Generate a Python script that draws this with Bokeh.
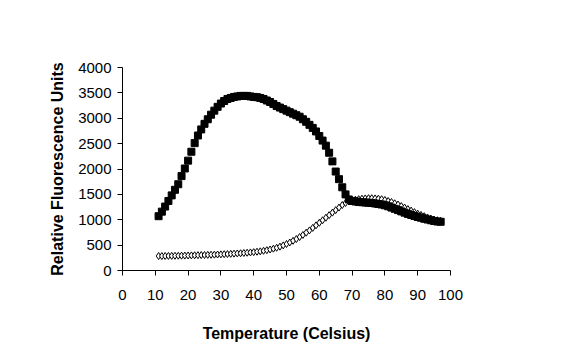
from bokeh.plotting import figure
from bokeh.models import Range1d, FixedTicker
from bokeh.embed import file_html
from bokeh.resources import INLINE

temps = list(range(11, 98))

series_filled = [1070, 1160, 1260, 1370, 1480, 1590, 1700, 1860, 2010, 2165,
                 2340, 2510, 2660, 2780, 2890, 2980, 3070, 3150, 3225, 3290,
                 3340, 3380, 3400, 3420, 3430, 3440, 3440, 3440, 3430, 3420,
                 3415, 3400, 3380, 3350, 3320, 3280, 3240, 3210, 3180, 3150,
                 3120, 3090, 3060, 3030, 2980, 2930, 2870, 2810, 2740, 2650,
                 2560, 2460, 2320, 2150, 1950, 1800, 1640, 1500, 1400, 1370,
                 1360, 1350, 1345, 1340, 1335, 1330, 1320, 1310, 1300, 1285,
                 1265, 1240, 1215, 1190, 1165, 1140, 1115, 1095, 1075, 1055,
                 1040, 1020, 1005, 990, 975, 965, 960]

series_open = [285, 285, 286, 287, 288, 290, 291, 292, 294, 296,
               298, 300, 302, 304, 306, 308, 310, 312, 315, 318,
               321, 324, 328, 332, 336, 340, 345, 350, 356, 362,
               370, 378, 388, 400, 414, 430, 448, 470, 495, 522,
               552, 585, 620, 660, 700, 745, 790, 840, 890, 940,
               990, 1040, 1090, 1140, 1190, 1240, 1290, 1330, 1360, 1380,
               1395, 1405, 1415, 1420, 1425, 1425, 1420, 1415, 1405, 1390,
               1370, 1350, 1325, 1300, 1270, 1240, 1210, 1180, 1150, 1120,
               1095, 1070, 1045, 1025, 1005, 990, 980]

x_ticks = [0, 10, 20, 30, 40, 50, 60, 70, 80, 90, 100]
y_ticks = [0, 500, 1000, 1500, 2000, 2500, 3000, 3500, 4000]

p = figure(width=576, height=357, output_backend="svg", toolbar_location=None,
           x_range=Range1d(0, 100), y_range=Range1d(0, 4000),
           min_border_left=122, min_border_right=126, min_border_top=67,
           min_border_bottom=87)
p.outline_line_color = None
p.grid.grid_line_color = None
p.background_fill_color = "white"
p.border_fill_color = "white"

p.diamond(temps, series_open, size=7, fill_color="white", line_color="black",
          line_width=1)
p.scatter(temps, series_filled, marker="square", size=7, fill_color="black",
          line_color="black")

for ax in (p.xaxis[0], p.yaxis[0]):
    ax.axis_line_color = "black"
    ax.axis_line_width = 1
    ax.major_tick_line_color = "black"
    ax.major_tick_in = 0
    ax.major_tick_out = 5
    ax.minor_tick_line_color = None
    ax.major_label_text_font = "Liberation Sans"
    ax.major_label_text_font_size = "15px"
    ax.major_label_text_color = "black"
    ax.axis_label_text_font = "Liberation Sans"
    ax.axis_label_text_font_size = "16px"
    ax.axis_label_text_font_style = "bold"
    ax.axis_label_text_color = "black"

p.xaxis.ticker = FixedTicker(ticks=x_ticks)
p.yaxis.ticker = FixedTicker(ticks=y_ticks)
p.xaxis.axis_label = "Temperature (Celsius)"
p.yaxis.axis_label = "Relative Fluorescence Units"
p.xaxis.major_label_standoff = 14
p.yaxis.major_label_standoff = 6
p.xaxis.axis_label_standoff = 22
p.yaxis.axis_label_standoff = 9

open("out.html", "w").write(file_html(p, INLINE))
